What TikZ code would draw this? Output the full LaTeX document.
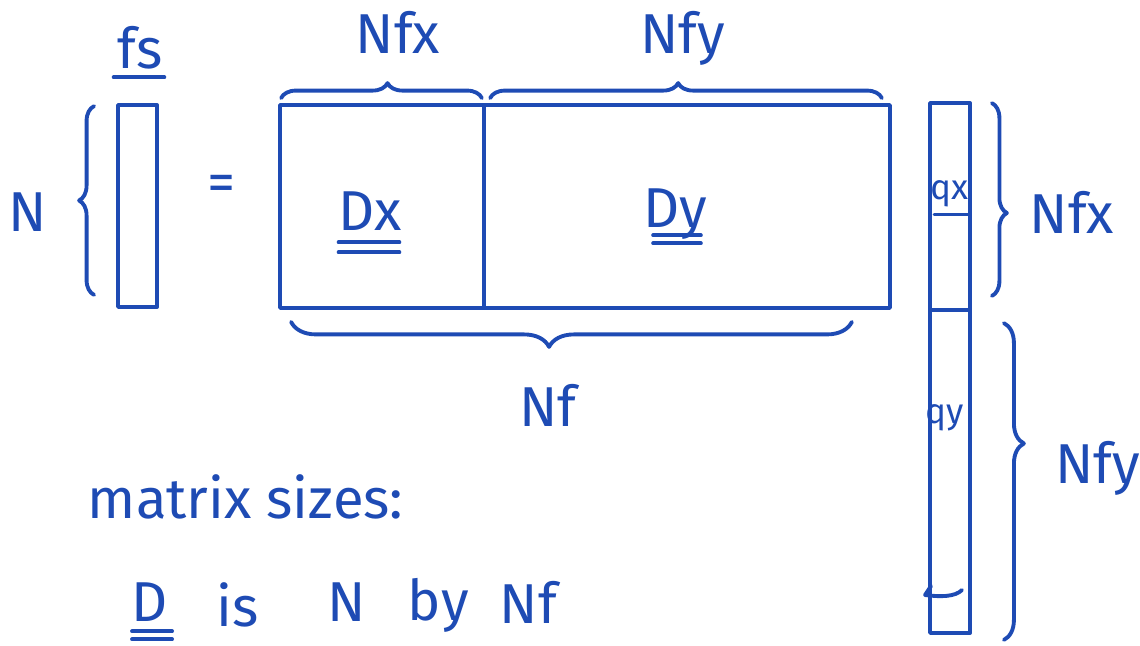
\documentclass[tikz,border=0pt]{standalone}
\usepackage{fontspec}
\setmainfont{Fira Sans}
\usetikzlibrary{decorations.pathreplacing,calc}
\definecolor{ink}{RGB}{30,75,180}
\begin{document}
\begin{tikzpicture}[x=0.02cm,y=-0.02cm, line width=2.2pt, line cap=round, line join=round,
  color=ink,
  lbl/.style={text=ink, font=\fontsize{32}{38}\selectfont, inner sep=0pt},
  small/.style={text=ink, font=\fontsize{20}{24}\selectfont, inner sep=0pt},
  brc/.style={decorate, decoration={brace, amplitude=#1}},
  mat/.style={draw=ink, line width=2.2pt, inner sep=0pt}]
\useasboundingbox (0,0) rectangle (1140,646);

% left vector fs
\node[mat, minimum width=0.78cm, minimum height=4.04cm] (fs) at (137.5,206) {};
\node[lbl] (fslbl) at (140,48) {fs};
\draw ($(fslbl.south west)+(-2,6)$) -- ($(fslbl.south east)+(0,6)$);
\draw[brc=0.3cm] ($(fs.south west)+(-22,-14)$) -- ($(fs.north west)+(-22,3)$);
\node[lbl] (N) at (28,212) {N};

% equals
\node[lbl] (eq) at (222,188) {=};

% big matrix D = [Dx Dy]
\node[mat, minimum width=4.08cm, minimum height=4.06cm] (Dx) at (382,206.5) {};
\node[mat, minimum width=8.12cm, minimum height=4.06cm] (Dy) at (687,206.5) {};
\node[lbl] (dxl) at (370,211) {Dx};
\draw ($(dxl.south west)+(2,10)$) -- ($(dxl.south east)+(-4,10)$);
\draw ($(dxl.south west)+(2,20)$) -- ($(dxl.south east)+(-4,20)$);
\node[lbl] (dyl) at (675,214) {Dy};
\draw ($(dyl.base west)+(12,8)$) -- ($(dyl.base east)+(-8,8)$);
\draw ($(dyl.base west)+(12,16)$) -- ($(dyl.base east)+(-8,16)$);

% top braces
\draw[brc=0.3cm, decoration={aspect=0.53}] ($(Dx.north west)+(3,-5)$) -- ($(Dx.north east)+(-4,-5)$);
\node[lbl] (nfx1) at (398,32) {Nfx};
\draw[brc=0.3cm, decoration={aspect=0.48}] ($(Dy.north west)+(8,-5)$) -- ($(Dy.north east)+(-10,-5)$);
\node[lbl] (nfy1) at (683,38) {Nfy};

% bottom brace
\draw[brc=0.5cm, decoration={aspect=0.54}] ($(Dy.south east)+(-40,12)$) -- ($(Dx.south west)+(13,12)$);
\node[lbl] (nf) at (548,405) {Nf};

% right vector q = [qx; qy]
\node[mat, minimum width=0.8cm, minimum height=4.14cm] (qx) at (950,206.5) {};
\node[mat, minimum width=0.8cm, minimum height=6.46cm] (qy) at (950,471.5) {};
\node[small] (qxl) at (950,194) {qx};
\draw[line width=1.6pt] ($(qxl.south west)+(5,5)$) -- ($(qxl.south east)+(-3,5)$);
\node[small] (qyl) at (945,418) {qy};
\draw (962,590) .. controls (955,597) and (940,597) .. (925,595) -- (931,586);

% right braces
\draw[brc=0.3cm, decoration={aspect=0.57}] ($(qx.north east)+(20,2)$) -- ($(qx.south east)+(20,-16)$);
\node[lbl] (nfx2) at (1072,212) {Nfx};
\draw[brc=0.4cm, decoration={aspect=0.38}] ($(qy.north east)+(32,15)$) -- ($(qy.south east)+(32,5)$);
\node[lbl] (nfy2) at (1098,468) {Nfy};

% text
\node[lbl, anchor=west] (ms) at (86,497) {matrix sizes:};
\node[lbl, anchor=west] (D) at (130,602) {D};
\draw ($(D.south west)+(2,8)$) -- ($(D.south east)+(2,8)$);
\draw ($(D.south west)+(2,16)$) -- ($(D.south east)+(2,16)$);
\node[lbl, anchor=west] (is) at (215,605) {is};
\node[lbl, anchor=west] (nn) at (326,602) {N};
\node[lbl, anchor=west] (by) at (406,605) {by};
\node[lbl, anchor=west] (nf2) at (498,602) {Nf};
\end{tikzpicture}
\end{document}
